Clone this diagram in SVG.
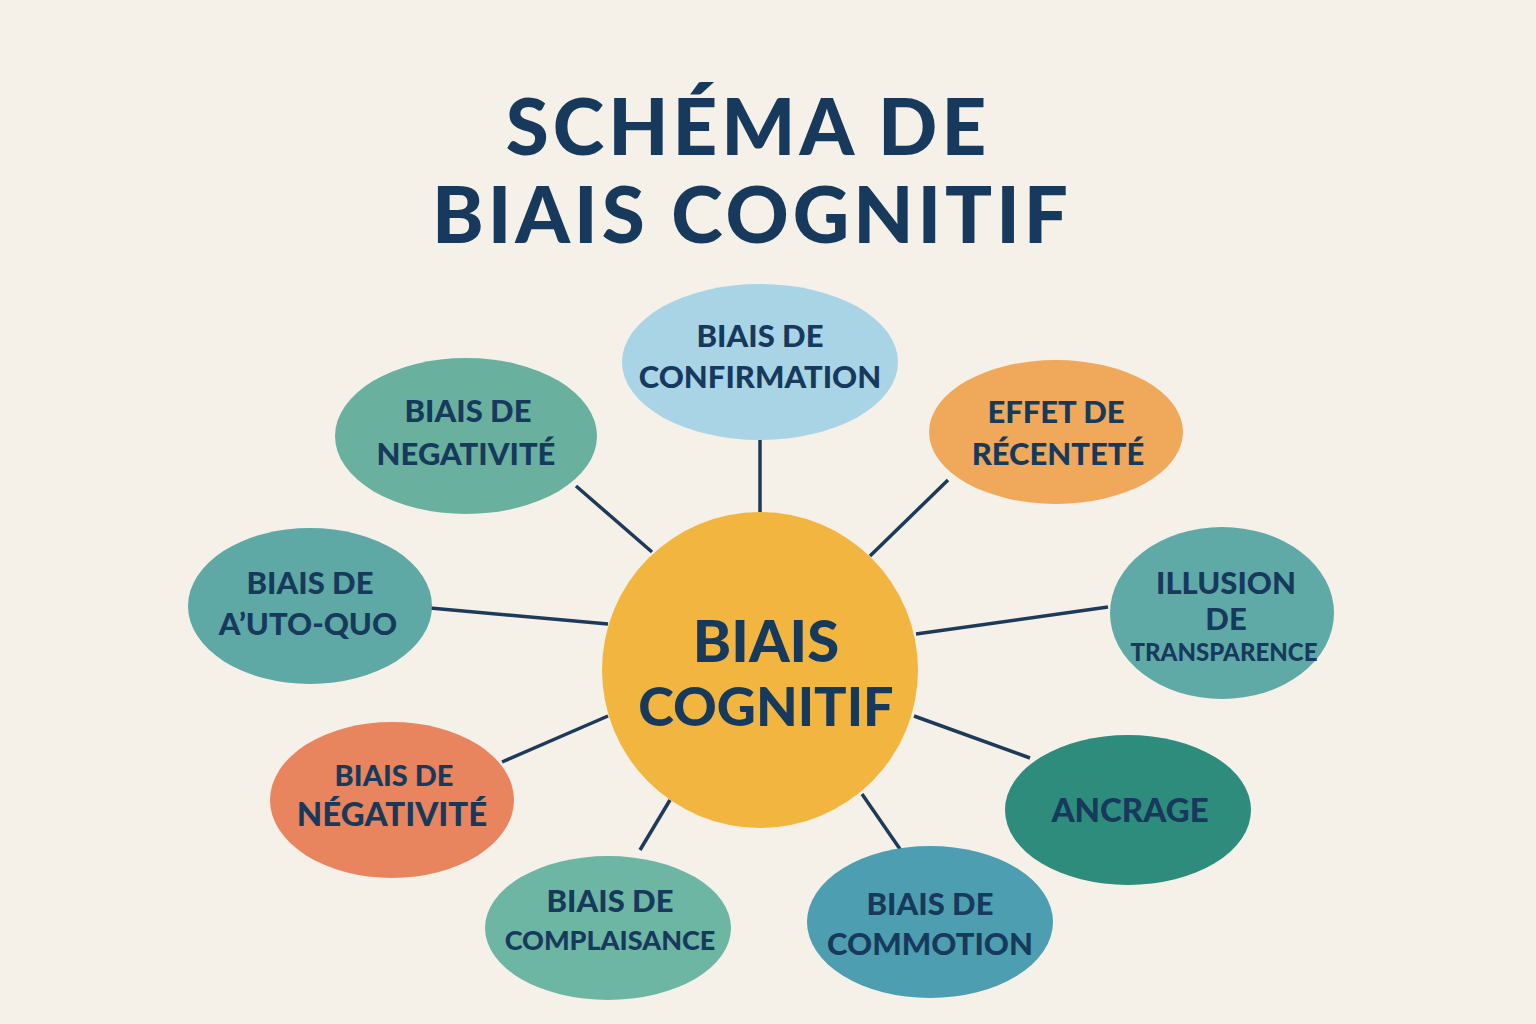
<svg xmlns="http://www.w3.org/2000/svg" width="1536" height="1024" viewBox="0 0 1536 1024">
<style>
.t{font-family:"Lato","Liberation Sans",sans-serif;font-weight:900;fill:#173a5c;text-anchor:middle}
.n{font-size:31px}
.c{stroke:#1e3a5a;stroke-width:3.5;fill:none}
</style>
<rect width="1536" height="1024" fill="#f5f0e8"/>
<g id="title">
<text class="t" x="748" y="155" font-size="78" letter-spacing="4">SCHÉMA DE</text>
<text class="t" x="752" y="243" font-size="78" letter-spacing="4">BIAIS COGNITIF</text>
</g>
<g id="connectors">
<line class="c" x1="760" y1="512" x2="760" y2="440"/>
<line class="c" x1="870" y1="556" x2="948" y2="480"/>
<line class="c" x1="916" y1="634" x2="1108" y2="607"/>
<line class="c" x1="914" y1="716" x2="1030" y2="758"/>
<line class="c" x1="862" y1="794" x2="902" y2="852"/>
<line class="c" x1="670" y1="800" x2="640" y2="850"/>
<line class="c" x1="608" y1="716" x2="502" y2="762"/>
<line class="c" x1="608" y1="624" x2="430" y2="608"/>
<line class="c" x1="652" y1="552" x2="576" y2="486"/>
</g>
<g id="center">
<circle cx="760" cy="670" r="158" fill="#f2b640"/>
<text class="t" x="766" y="662" font-size="58">BIAIS</text>
<text class="t" x="766" y="726" font-size="54">COGNITIF</text>
</g>
<g id="confirmation">
<ellipse cx="760" cy="362" rx="138" ry="78" fill="#a8d4e6"/>
<text class="t n" x="760" y="347">BIAIS DE</text>
<text class="t n" x="760" y="388">CONFIRMATION</text>
</g>
<g id="recentete">
<ellipse cx="1056" cy="432" rx="127" ry="72" fill="#f0a95a"/>
<text class="t n" x="1056" y="423">EFFET DE</text>
<text class="t n" x="1058" y="465">RÉCENTETÉ</text>
</g>
<g id="illusion">
<ellipse cx="1222" cy="613" rx="112" ry="86" fill="#5fa9a6"/>
<text class="t n" x="1226" y="594">ILLUSION</text>
<text class="t n" x="1226" y="630">DE</text>
<text class="t" x="1224" y="661" font-size="24">TRANSPARENCE</text>
</g>
<g id="ancrage">
<ellipse cx="1128" cy="810" rx="123" ry="75" fill="#2e8c7c"/>
<text class="t" x="1130" y="822" font-size="33">ANCRAGE</text>
</g>
<g id="commotion">
<ellipse cx="930" cy="922" rx="123" ry="76" fill="#4d9eb0"/>
<text class="t n" x="930" y="915">BIAIS DE</text>
<text class="t n" x="930" y="955">COMMOTION</text>
</g>
<g id="complaisance">
<ellipse cx="608" cy="928" rx="123" ry="72" fill="#6db6a4"/>
<text class="t n" x="610" y="912">BIAIS DE</text>
<text class="t" x="610" y="950" font-size="27">COMPLAISANCE</text>
</g>
<g id="negativite2">
<ellipse cx="392" cy="800" rx="122" ry="78" fill="#e8845e"/>
<text class="t" x="394" y="786" font-size="29">BIAIS DE</text>
<text class="t" x="392" y="826" font-size="33">NÉGATIVITÉ</text>
</g>
<g id="autoquo">
<ellipse cx="310" cy="606" rx="122" ry="78" fill="#5ea8a6"/>
<text class="t n" x="310" y="594">BIAIS DE</text>
<text class="t n" x="308" y="635">A’UTO-QUO</text>
</g>
<g id="negativite1">
<ellipse cx="466" cy="436" rx="131" ry="78" fill="#6ab09e"/>
<text class="t n" x="468" y="422">BIAIS DE</text>
<text class="t n" x="466" y="465">NEGATIVITÉ</text>
</g>
</svg>
